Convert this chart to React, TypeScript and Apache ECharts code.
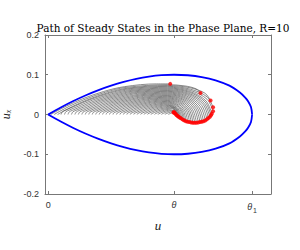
import React, { useEffect, useRef } from "react";
import * as echarts from "echarts";

// x in units of theta (0 -> 0, theta -> 1, theta_1 -> 1.62); y = u_x
const titleText = "Path of Steady States in the Phase Plane, R=10";
const yTicks = [-0.2, -0.1, 0, 0.1, 0.2];
const xTickValues = [0, 1, 1.62];
const xTickLabels = ["0", "{t|θ}", "{t|θ}{s|1}"];

const blueUpper: number[][] = [
  [0, 0], [0.1, 0.0177], [0.2, 0.0339], [0.3, 0.0485], [0.4, 0.0614], [0.5, 0.0726],
  [0.6, 0.082], [0.7, 0.0896], [0.8, 0.0952], [0.9, 0.0988], [1.0, 0.1], [1.11, 0.0987],
  [1.22, 0.0943], [1.33, 0.0861], [1.44, 0.0726], [1.523, 0.0552], [1.567, 0.0419],
  [1.589, 0.0327], [1.611, 0.0188], [1.62, 0],
];
const blueLower: number[][] = [
  [0, 0], [0.1, -0.0177], [0.2, -0.0339], [0.3, -0.0485], [0.4, -0.0614], [0.5, -0.0726],
  [0.6, -0.082], [0.7, -0.0896], [0.8, -0.0952], [0.9, -0.0988], [1.0, -0.1], [1.11, -0.0987],
  [1.22, -0.0943], [1.33, -0.0861], [1.44, -0.0726], [1.523, -0.0552], [1.567, -0.0419],
  [1.589, -0.0327], [1.611, -0.0188], [1.62, 0],
];

const grayPaths: number[][][] = [
  [[0.02,0],[0.062,0.0075],[0.146,0.0214],[0.272,0.0393],[0.44,0.0578],[0.608,0.0701],[0.86,0.077],[0.97,0.077]],
  [[0.0475,0],[0.088,0.0073],[0.17,0.0208],[0.293,0.0382],[0.456,0.0562],[0.619,0.0682],[0.95,0.0749],[1.08,0.0721],[1.175,0.0645],[1.21,0.054]],
  [[0.075,0],[0.115,0.0071],[0.194,0.0202],[0.313,0.0371],[0.472,0.0546],[0.631,0.0662],[0.95,0.0728],[1.12,0.0677],[1.244,0.0539],[1.29,0.035]],
  [[0.1025,0],[0.114,0.0071],[0.141,0.0113],[0.218,0.0219],[0.334,0.0375],[0.488,0.0537],[0.642,0.0647],[0.95,0.0707],[1.13,0.0636],[1.262,0.0444],[1.31,0.018]],
  [[0.13,0],[0.141,0.0069],[0.167,0.011],[0.242,0.0213],[0.354,0.0364],[0.504,0.0521],[0.654,0.0628],[0.95,0.0686],[1.13,0.0605],[1.262,0.0383],[1.31,0.008]],
  [[0.1575,0],[0.168,0.0067],[0.194,0.0106],[0.266,0.0206],[0.375,0.0352],[0.52,0.0505],[0.665,0.0608],[0.95,0.0665],[1.125,0.0579],[1.253,0.0343],[1.30,0.002]],
  [[0.185,0],[0.196,0.0065],[0.22,0.0103],[0.29,0.02],[0.396,0.0342],[0.537,0.049],[0.677,0.059],[0.95,0.0645],[1.122,0.0556],[1.247,0.0313],[1.293,-0.002]],
  [[0.2125,0],[0.223,0.0062],[0.2465,0.01],[0.3145,0.0193],[0.4165,0.0331],[0.5525,0.0474],[0.6885,0.0571],[0.95,0.0624],[1.117,0.0532],[1.239,0.0282],[1.284,-0.006]],
  [[0.24,0],[0.25,0.006],[0.273,0.0096],[0.339,0.0187],[0.437,0.032],[0.569,0.0458],[0.70,0.0552],[0.95,0.0603],[1.112,0.051],[1.23,0.0257],[1.273,-0.009]],
  [[0.2675,0],[0.277,0.0058],[0.299,0.0093],[0.363,0.018],[0.458,0.0308],[0.585,0.0442],[0.711,0.0533],[0.95,0.0582],[1.106,0.0488],[1.219,0.0231],[1.261,-0.012]],
  [[0.295,0],[0.304,0.0056],[0.326,0.009],[0.387,0.0174],[0.479,0.0297],[0.601,0.0426],[0.723,0.0513],[0.95,0.0561],[1.099,0.0466],[1.208,0.0206],[1.248,-0.015]],
  [[0.3225,0],[0.331,0.0054],[0.352,0.0086],[0.411,0.0167],[0.499,0.0286],[0.617,0.041],[0.735,0.0494],[0.95,0.054],[1.092,0.0445],[1.196,0.0185],[1.234,-0.017]],
  [[0.35,0],[0.3585,0.0052],[0.378,0.0083],[0.435,0.0161],[0.52,0.0275],[0.633,0.0394],[0.746,0.0475],[0.95,0.0519],[1.085,0.0425],[1.184,0.017],[1.22,-0.018]],
  [[0.3775,0],[0.386,0.005],[0.405,0.008],[0.459,0.0154],[0.54,0.0264],[0.649,0.0378],[0.758,0.0456],[0.95,0.0498],[1.078,0.0406],[1.172,0.0154],[1.206,-0.019]],
  [[0.405,0],[0.413,0.0048],[0.431,0.0076],[0.483,0.0148],[0.561,0.0253],[0.665,0.0363],[0.769,0.0436],[0.95,0.0477],[1.071,0.0386],[1.16,0.0139],[1.192,-0.02]],
  [[0.4325,0],[0.44,0.0046],[0.457,0.0073],[0.507,0.0142],[0.582,0.0242],[0.682,0.0347],[0.781,0.0418],[0.95,0.0457],[1.064,0.0368],[1.147,0.0124],[1.178,-0.021]],
  [[0.46,0],[0.467,0.0044],[0.484,0.007],[0.531,0.0135],[0.603,0.0231],[0.698,0.0331],[0.793,0.0399],[0.95,0.0436],[1.057,0.0349],[1.135,0.0113],[1.164,-0.021]],
  [[0.4875,0],[0.494,0.0042],[0.51,0.0066],[0.555,0.0129],[0.623,0.022],[0.714,0.0315],[0.804,0.038],[0.95,0.0415],[1.05,0.0331],[1.123,0.0103],[1.15,-0.021]],
  [[0.515,0],[0.521,0.0039],[0.537,0.0063],[0.579,0.0122],[0.644,0.0209],[0.73,0.0299],[0.815,0.0361],[0.95,0.0394],[1.043,0.0314],[1.111,0.0097],[1.136,-0.02]],
  [[0.5425,0],[0.549,0.0037],[0.563,0.006],[0.604,0.0116],[0.665,0.0198],[0.746,0.0283],[0.827,0.0341],[0.95,0.0373],[1.036,0.0298],[1.099,0.0092],[1.122,-0.019]],
  [[0.57,0],[0.576,0.0035],[0.589,0.0056],[0.628,0.0109],[0.685,0.0187],[0.762,0.0268],[0.839,0.0322],[0.95,0.0352],[1.029,0.0281],[1.087,0.0086],[1.108,-0.018]],
  [[0.5975,0],[0.603,0.0033],[0.616,0.0053],[0.652,0.0103],[0.706,0.0175],[0.778,0.0252],[0.85,0.0303],[0.95,0.0331],[1.0225,0.0264],[1.0756,0.0081],[1.095,-0.017]],
  [[0.625,0],[0.63,0.0031],[0.642,0.005],[0.676,0.0096],[0.726,0.0164],[0.794,0.0236],[0.862,0.0284],[0.95,0.031],[1.0165,0.0248],[1.065,0.008],[1.083,-0.015]],
  [[0.6525,0],[0.657,0.0029],[0.668,0.0046],[0.7,0.009],[0.747,0.0153],[0.81,0.022],[0.873,0.0264],[0.95,0.0289],[1.011,0.0233],[1.056,0.008],[1.072,-0.013]],
  [[0.68,0],[0.684,0.0027],[0.695,0.0043],[0.724,0.0083],[0.768,0.0142],[0.826,0.0204],[0.884,0.0245],[0.95,0.0268],[1.0055,0.0217],[1.046,0.0079],[1.061,-0.011]],
  [[0.7075,0],[0.7115,0.0025],[0.721,0.004],[0.748,0.0077],[0.788,0.0131],[0.842,0.0188],[0.896,0.0226],[0.95,0.0247],[1.0005,0.0202],[1.0375,0.0079],[1.051,-0.009]],
  [[0.735,0],[0.739,0.0023],[0.747,0.0036],[0.772,0.007],[0.809,0.012],[0.8585,0.0173],[0.908,0.0208],[0.957,0.0227],[0.9995,0.0187],[1.031,0.0079],[1.042,-0.007]],
  [[0.7625,0],[0.766,0.0021],[0.774,0.0033],[0.796,0.0064],[0.83,0.0109],[0.8745,0.0157],[0.919,0.0188],[0.964,0.0206],[0.999,0.0172],[1.0246,0.0078],[1.034,-0.005]],
  [[0.79,0],[0.793,0.0019],[0.8,0.003],[0.82,0.0057],[0.85,0.0098],[0.8905,0.0141],[0.931,0.0169],[0.971,0.0185],[0.9985,0.0156],[1.0186,0.0078],[1.026,-0.003]],
  [[0.8175,0],[0.82,0.0016],[0.8265,0.0026],[0.844,0.0051],[0.871,0.0087],[0.907,0.0125],[0.943,0.015],[0.979,0.0164],[0.999,0.0141],[1.0136,0.0077],[1.019,-0.001]],
  [[0.845,0],[0.847,0.0014],[0.853,0.0023],[0.868,0.0044],[0.892,0.0076],[0.923,0.0109],[0.954,0.0131],[0.983,0.0143],[0.998,0.0125],[1.009,0.0077],[1.013,0.001]],
  [[0.8725,0],[0.8745,0.0012],[0.879,0.002],[0.8925,0.0038],[0.912,0.0065],[0.939,0.0093],[0.966,0.0112],[0.992,0.01],[1.007,0.003]],
  [[0.9,0],[0.902,0.001],[0.9055,0.0016],[0.9165,0.0031],[0.933,0.0054],[0.955,0.0077],[0.977,0.0092],[0.993,0.0085],[1.002,0.005]],
  [[0.9275,0],[0.929,0.0008],[0.932,0.0013],[0.9405,0.0025],[0.9535,0.0042],[0.971,0.0061],[0.988,0.0073],[0.998,0.006]],
  [[0.955,0],[0.956,0.0006],[0.958,0.0009],[0.9645,0.0018],[0.974,0.0031],[0.987,0.0045],[0.995,0.005]],
];

const AXIS_COLOR = "#777";
const LABEL_COLOR = "#333";
const sansFont = "Liberation Sans";
const serifFont = "Liberation Serif";
const titleFont = "DejaVu Serif";

export default function App() {
  const ref = useRef<HTMLDivElement>(null);
  useEffect(() => {
    document.body.style.margin = "0";
    const chart = echarts.init(ref.current!, null, { renderer: "svg" });
    const endPoints = grayPaths.map((p) => p[p.length - 1]);
    const xMin = -0.025;
    const xMax = 1.77;
    const subRich = {
      t: { fontFamily: sansFont, fontStyle: "italic", fontSize: 9, color: LABEL_COLOR },
      s: { fontFamily: sansFont, fontSize: 7, color: LABEL_COLOR, padding: [7, 0, 0, 1] },
    };
    chart.setOption({
      animation: false,
      backgroundColor: "#fff",
      title: {
        text: titleText,
        left: 158,
        top: 17,
        textAlign: "center",
        textStyle: { fontFamily: titleFont, fontSize: 10.5, fontWeight: "normal", color: "#000" },
      },
      grid: { left: 45, right: 29, top: 35, bottom: 56, containLabel: false, outerBoundsMode: "none" },
      xAxis: [
        {
          type: "value",
          min: xMin,
          max: xMax,
          position: "bottom",
          axisLine: { show: true, onZero: false, lineStyle: { color: AXIS_COLOR, width: 1 } },
          axisTick: { show: true, inside: true, length: 3, customValues: xTickValues, lineStyle: { color: AXIS_COLOR } },
          axisLabel: {
            customValues: xTickValues,
            margin: 6,
            fontFamily: sansFont,
            fontSize: 9,
            color: LABEL_COLOR,
            formatter: (v: number) => {
              const i = xTickValues.findIndex((t) => Math.abs(t - v) < 1e-6);
              return i >= 0 ? xTickLabels[i] : "";
            },
            rich: subRich,
          },
          splitLine: { show: false },
          name: "u",
          nameLocation: "middle",
          nameGap: 20,
          nameTextStyle: { fontFamily: serifFont, fontStyle: "italic", fontSize: 13, color: "#222" },
        },
        {
          type: "value",
          min: xMin,
          max: xMax,
          position: "top",
          axisLine: { show: true, onZero: false, lineStyle: { color: AXIS_COLOR, width: 1 } },
          axisTick: { show: true, inside: true, length: 3, customValues: xTickValues, lineStyle: { color: AXIS_COLOR } },
          axisLabel: { show: false },
          splitLine: { show: false },
        },
      ],
      yAxis: [
        {
          type: "value",
          min: -0.2,
          max: 0.2,
          interval: 0.1,
          position: "left",
          axisLine: { show: true, onZero: false, lineStyle: { color: AXIS_COLOR, width: 1 } },
          axisTick: { show: true, inside: true, length: 3, customValues: yTicks, lineStyle: { color: AXIS_COLOR } },
          axisLabel: {
            customValues: yTicks,
            margin: 6,
            fontFamily: sansFont,
            fontSize: 9,
            color: LABEL_COLOR,
            formatter: (v: number) => String(Math.round(v * 10) / 10),
          },
          splitLine: { show: false },
          name: "{t|u}{s|x}",
          nameLocation: "middle",
          nameGap: 25,
          nameRotate: 90,
          nameTextStyle: {
            rich: {
              t: { fontFamily: serifFont, fontStyle: "italic", fontSize: 12, color: "#222" },
              s: { fontFamily: serifFont, fontStyle: "italic", fontSize: 8, color: "#222", padding: [6, 0, 0, 0] },
            },
          },
        },
        {
          type: "value",
          min: -0.2,
          max: 0.2,
          interval: 0.1,
          position: "right",
          axisLine: { show: true, onZero: false, lineStyle: { color: AXIS_COLOR, width: 1 } },
          axisTick: { show: true, inside: true, length: 3, lineStyle: { color: AXIS_COLOR } },
          axisLabel: { show: false },
          splitLine: { show: false },
        },
      ],
      series: [
        ...grayPaths.map((p) => ({
          type: "line",
          data: p,
          smooth: 0.35,
          symbol: "none",
          silent: true,
          z: 2,
          lineStyle: { color: "#5a5a5a", width: 0.7 },
        })),
        {
          type: "line",
          data: blueUpper,
          smooth: 0.3,
          symbol: "none",
          silent: true,
          z: 3,
          lineStyle: { color: "#0000ff", width: 1.8 },
        },
        {
          type: "line",
          data: blueLower,
          smooth: 0.3,
          symbol: "none",
          silent: true,
          z: 3,
          lineStyle: { color: "#0000ff", width: 1.8 },
        },
        {
          type: "scatter",
          data: endPoints,
          symbol: "circle",
          symbolSize: 4,
          silent: true,
          z: 4,
          itemStyle: { color: "#ff0000" },
        },
      ],
    });
    return () => chart.dispose();
  }, []);
  return (
    <div
      ref={ref}
      style={{ position: "fixed", left: 0, top: 0, width: 300, height: 250 }}
    />
  );
}
